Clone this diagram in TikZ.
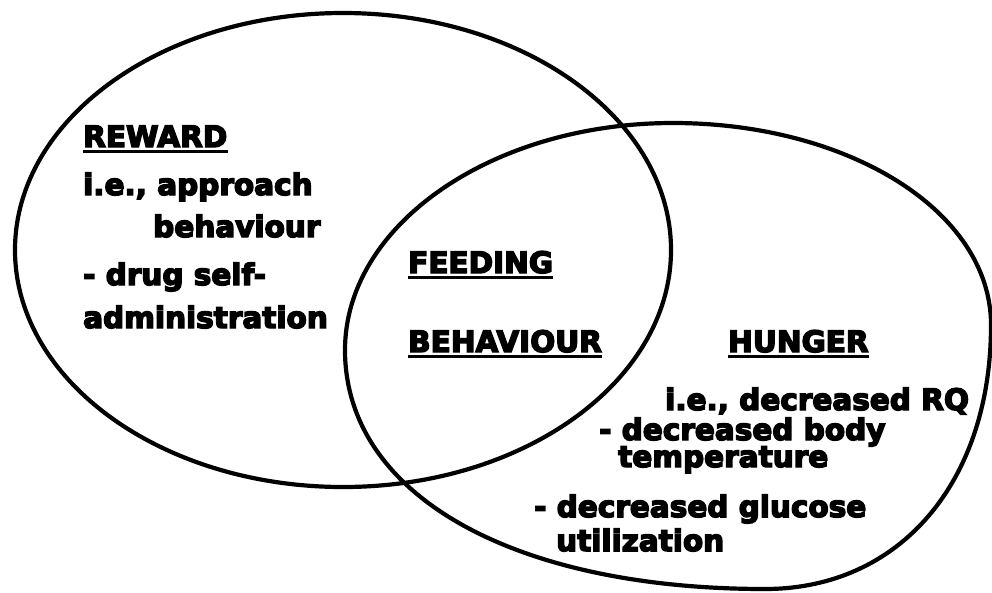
\documentclass[tikz,border=0pt]{standalone}
\usepackage{fontspec}
\setmainfont{DejaVu Sans}[BoldFeatures={FakeBold=5}]
\begin{document}
\begin{tikzpicture}[x=1pt,y=-1pt,
  ring/.style={line width=4.2pt,black},
  lbl/.style={anchor=base west,inner sep=0pt,font=\fontsize{29.5}{30}\selectfont\bfseries},
  uline/.style={line width=2.8pt}]
\useasboundingbox (0,0) rectangle (992,592);
\fill[white] (0,0) rectangle (992,592);
% left ellipse (REWARD)
\draw[ring] (343,250) ellipse [x radius=328pt, y radius=237pt];
% right ellipse (HUNGER)
\coordinate (hl) at (345,350);
\coordinate (ht) at (673,123);
\coordinate (hr) at (991,325);
\coordinate (hb) at (765,589);
\draw[ring] (hl) .. controls (345,225) and (492,123) .. (ht)
  .. controls (848,123) and (991,211) .. (hr)
  .. controls (991,482) and (900,589) .. (hb)
  .. controls (513,589) and (345,495) .. (hl) -- cycle;
% REWARD text
\node[lbl] (rw) at (83,147) {REWARD};
\draw[uline] ([yshift=-4.5pt]rw.base west) -- ([yshift=-4.5pt]rw.base east);
\node[lbl] (ie1) at (83,195) {i.e., approach};
\node[lbl] (bh1) at (153,237) {behaviour};
\node[lbl] (ds) at (83,285) {- drug self-};
\node[lbl] (ad) at (83,328) {administration};
% FEEDING BEHAVIOUR
\node[lbl] (fd) at (408,273) {FEEDING};
\draw[uline] ([yshift=-4.5pt]fd.base west) -- ([yshift=-4.5pt]fd.base east);
\node[lbl] (fb) at (408,352) {BEHAVIOUR};
\draw[uline] ([yshift=-4.5pt]fb.base west) -- ([yshift=-4.5pt]fb.base east);
% HUNGER
\node[lbl] (hu) at (728,352) {HUNGER};
\draw[uline] ([yshift=-4.5pt]hu.base west) -- ([yshift=-4.5pt]hu.base east);
\node[lbl] (ie2) at (665,410) {i.e., decreased RQ};
\node[lbl] (db) at (599,440) {- decreased body};
\node[lbl] (tp) at (618,467) {temperature};
\node[lbl] (dg) at (534,517) {- decreased glucose};
\node[lbl] (ut) at (556,551) {utilization};
\end{tikzpicture}
\end{document}
